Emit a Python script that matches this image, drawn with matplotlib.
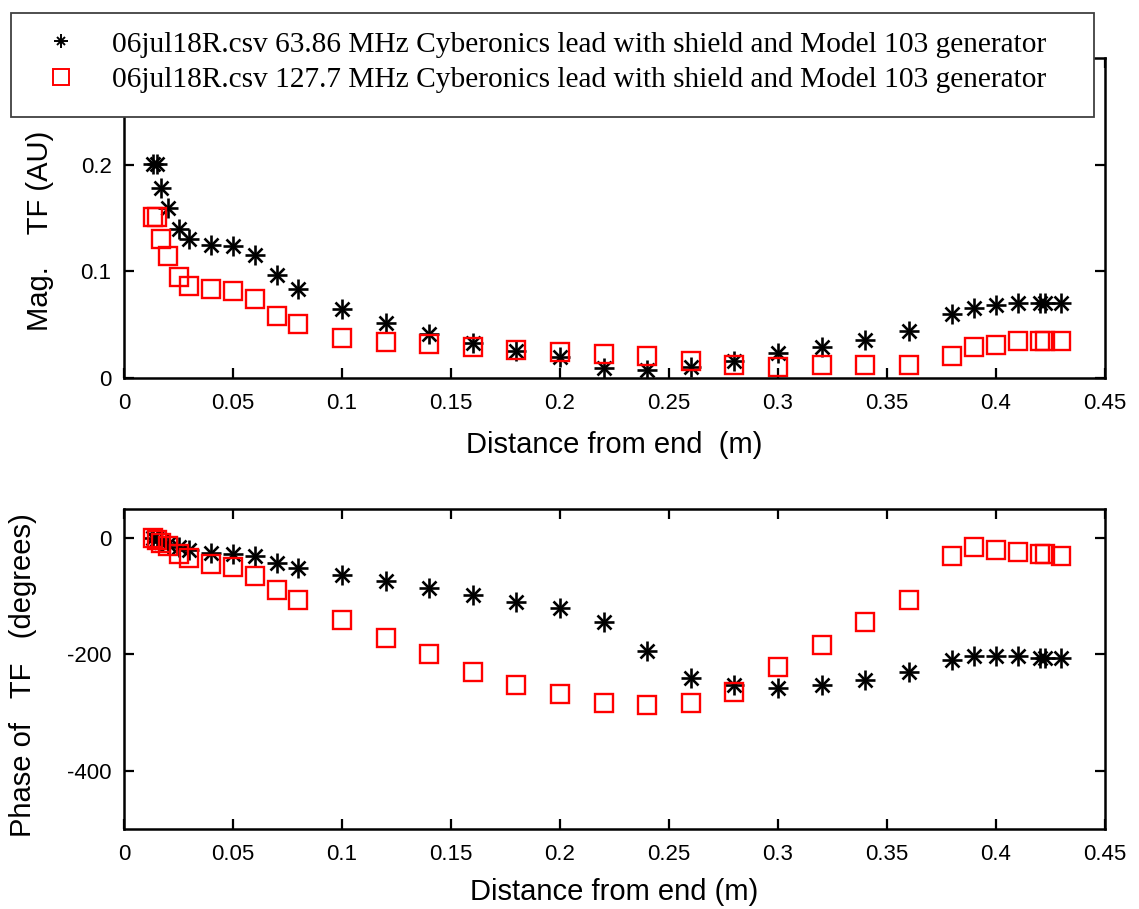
import matplotlib
matplotlib.use("Agg")
import matplotlib.pyplot as plt
from matplotlib.lines import Line2D
from matplotlib.patches import Rectangle
from matplotlib.legend_handler import HandlerTuple

# Measurement positions along the lead (m)
distance = [0.0135, 0.015, 0.017, 0.02, 0.025, 0.03, 0.04, 0.05, 0.06, 0.07,
            0.08, 0.10, 0.12, 0.14, 0.16, 0.18, 0.20, 0.22, 0.24, 0.26,
            0.28, 0.30, 0.32, 0.34, 0.36, 0.38, 0.39, 0.40, 0.41, 0.42,
            0.4225, 0.43]

# Transfer-function magnitude (AU)
mag_64 = [0.201, 0.201, 0.178, 0.1595, 0.140, 0.130, 0.125, 0.124, 0.1155, 0.097,
          0.0835, 0.0644, 0.052, 0.041, 0.0327, 0.025, 0.020, 0.0095, 0.0077, 0.0107,
          0.0163, 0.023, 0.0293, 0.0355, 0.0442, 0.0597, 0.0659, 0.0684, 0.0705, 0.0705,
          0.0705, 0.0705]
mag_128 = [0.151, 0.151, 0.130, 0.114, 0.0944, 0.086, 0.0839, 0.082, 0.0737, 0.058,
           0.0504, 0.0374, 0.0333, 0.0318, 0.0293, 0.0265, 0.0247, 0.0225, 0.0203, 0.0163,
           0.0123, 0.010, 0.0123, 0.0123, 0.0123, 0.0209, 0.0293, 0.0312, 0.0349, 0.0349,
           0.0349, 0.0349]

# Transfer-function phase (degrees)
phase_64 = [0, -2, -6, -10, -15, -20, -26, -27, -31, -43,
            -51, -63, -74, -86, -98, -110, -121, -144, -194, -241,
            -252, -257, -252, -244, -230, -210, -203, -203, -203, -206,
            -206, -206]
phase_128 = [0, -3, -9, -14, -27, -35, -44, -50, -66, -90,
             -106, -140, -171, -199, -230, -252, -268, -284, -287, -284,
             -264, -221, -183, -144, -106, -31, -16, -20, -24, -28,
             -28, -31]

label_64 = "06jul18R.csv 63.86 MHz Cyberonics lead with shield and Model 103 generator"
label_128 = "06jul18R.csv 127.7 MHz Cyberonics lead with shield and Model 103 generator"

xticks = [0, 0.05, 0.1, 0.15, 0.2, 0.25, 0.3, 0.35, 0.4, 0.45]
xtick_labels = ["0", "0.05", "0.1", "0.15", "0.2", "0.25", "0.3", "0.35", "0.4", "0.45"]

plt.rcParams["font.family"] = ["Liberation Sans", "DejaVu Sans"]

W, H = 1139, 909
fig = plt.figure(figsize=(W / 100, H / 100), dpi=100)


def rect(l, t, r, b):
    return [l / W, 1 - b / H, (r - l) / W, (b - t) / H]


ax1 = fig.add_axes(rect(124, 58, 1105, 378))
ax2 = fig.add_axes(rect(124, 509, 1105, 829))


def draw_star(ax, x, y, ms=14.5):
    ax.plot(x, y, linestyle="none", marker="+", ms=ms, mew=1.9, color="black")
    ax.plot(x, y, linestyle="none", marker="x", ms=ms * 0.66, mew=1.9, color="black")


def draw_square(ax, x, y):
    ax.plot(x, y, linestyle="none", marker="s", ms=13, mew=1.7,
            mfc="none", mec="#ff0000")


for ax in (ax1, ax2):
    for s in ax.spines.values():
        s.set_linewidth(1.8)
    ax.tick_params(direction="in", length=7, width=1.6, top=True, right=True,
                   labelsize=16, pad=9)
    ax.tick_params(axis="x", pad=11)
    ax.set_xlim(0, 0.45)
    ax.set_xticks(xticks)
    ax.set_xticklabels(xtick_labels)

# Magnitude panel
draw_star(ax1, distance, mag_64)
draw_square(ax1, distance, mag_128)
ax1.set_ylim(0, 0.3)
ax1.set_yticks([0, 0.1, 0.2])
ax1.set_yticklabels(["0", "0.1", "0.2"])
ax1.set_xlabel("Distance from end  (m)", fontsize=21, labelpad=12)
ax1.set_ylabel("Mag.    TF (AU)", fontsize=21)
ax1.yaxis.set_label_coords(-0.071, 0.46)

# Phase panel
draw_star(ax2, distance, phase_64)
draw_square(ax2, distance, phase_128)
ax2.set_ylim(-500, 50)
ax2.set_yticks([-400, -200, 0])
ax2.set_yticklabels(["-400", "-200", "0"])
ax2.set_xlabel("Distance from end (m)", fontsize=21, labelpad=9)
ax2.set_ylabel("Phase of   TF   (degrees)", fontsize=21)
ax2.yaxis.set_label_coords(-0.089, 0.48)

# Legend box across the top
fig.patches.append(Rectangle((11 / W, 1 - 117 / H), (1094 - 11) / W, (117 - 13) / H,
                             transform=fig.transFigure, facecolor="white",
                             edgecolor="#404040", linewidth=1.3, zorder=3))
h_star = (Line2D([], [], linestyle="none", marker="+", ms=9.5, mew=1.4, color="black"),
          Line2D([], [], linestyle="none", marker="x", ms=6.2, mew=1.4, color="black"))
h_sq = Line2D([], [], linestyle="none", marker="s", ms=12, mew=1.4, mfc="none", mec="#ff0000")
leg = fig.legend([h_star, h_sq], [label_64, label_128],
                 handler_map={tuple: HandlerTuple(ndivide=1)},
                 loc="upper left", bbox_to_anchor=(32 / W, 1 - 31 / H),
                 frameon=False, borderpad=0, borderaxespad=0,
                 handlelength=2.0, handletextpad=0.7, labelspacing=0.3,
                 prop={"family": "Liberation Serif", "size": 21.2})
leg.set_zorder(5)

fig.savefig("out.png", dpi=100)
